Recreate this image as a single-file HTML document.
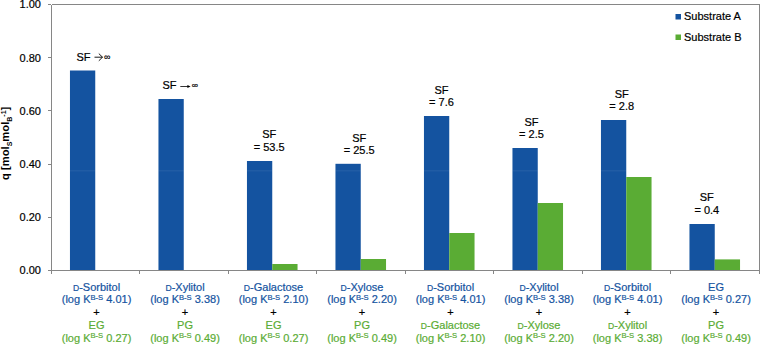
<!DOCTYPE html>
<html><head><meta charset="utf-8"><style>
html,body{margin:0;padding:0;background:#fff;}
body{width:760px;height:344px;overflow:hidden;}
svg{display:block;font-family:"Liberation Sans",sans-serif;}
text{stroke-width:0.2px;}
</style></head><body>
<svg width="760" height="344" viewBox="0 0 760 344">

<rect x="69.96" y="70.5" width="25.29" height="200.00" fill="#1453a0"/>
<rect x="69.96" y="170.2" width="25.29" height="1.2" fill="#fff" fill-opacity="0.07"/>
<rect x="158.46" y="99" width="25.29" height="171.50" fill="#1453a0"/>
<rect x="158.46" y="170.2" width="25.29" height="1.2" fill="#fff" fill-opacity="0.07"/>
<rect x="246.96" y="161" width="25.29" height="109.50" fill="#1453a0"/>
<rect x="246.96" y="170.2" width="25.29" height="1.2" fill="#fff" fill-opacity="0.07"/>
<rect x="272.25" y="264" width="25.29" height="6.50" fill="#5aac34"/>
<rect x="335.46" y="163.8" width="25.29" height="106.70" fill="#1453a0"/>
<rect x="335.46" y="170.2" width="25.29" height="1.2" fill="#fff" fill-opacity="0.07"/>
<rect x="360.75" y="259" width="25.29" height="11.50" fill="#5aac34"/>
<rect x="423.96" y="116" width="25.29" height="154.50" fill="#1453a0"/>
<rect x="423.96" y="170.2" width="25.29" height="1.2" fill="#fff" fill-opacity="0.07"/>
<rect x="449.25" y="233" width="25.29" height="37.50" fill="#5aac34"/>
<rect x="512.46" y="148" width="25.29" height="122.50" fill="#1453a0"/>
<rect x="512.46" y="170.2" width="25.29" height="1.2" fill="#fff" fill-opacity="0.07"/>
<rect x="537.75" y="203" width="25.29" height="67.50" fill="#5aac34"/>
<rect x="600.96" y="120" width="25.29" height="150.50" fill="#1453a0"/>
<rect x="600.96" y="170.2" width="25.29" height="1.2" fill="#fff" fill-opacity="0.07"/>
<rect x="626.25" y="177" width="25.29" height="93.50" fill="#5aac34"/>
<rect x="689.46" y="224" width="25.29" height="46.50" fill="#1453a0"/>
<rect x="714.75" y="259.4" width="25.29" height="11.10" fill="#5aac34"/>
<g stroke="#868686" stroke-width="1" fill="none" shape-rendering="crispEdges">
<path d="M51.5 4.5 H759.5 V270.5"/>
<path d="M51.5 4.5 V273.5"/>
<path d="M51 270.5 H760"/>
<path d="M48 270.5 H51"/>
<path d="M48 217.3 H51"/>
<path d="M48 164.1 H51"/>
<path d="M48 110.9 H51"/>
<path d="M48 57.7 H51"/>
<path d="M48 4.5 H51"/>
<path d="M139.5 270.5 V273.5"/>
<path d="M228.0 270.5 V273.5"/>
<path d="M316.5 270.5 V273.5"/>
<path d="M405.0 270.5 V273.5"/>
<path d="M493.5 270.5 V273.5"/>
<path d="M582.0 270.5 V273.5"/>
<path d="M670.5 270.5 V273.5"/>
<path d="M759.0 270.5 V273.5"/>
</g>
<g font-size="11" fill="#000" stroke="#000" text-anchor="end">
<text x="41" y="274.3">0.00</text>
<text x="41" y="221.1">0.20</text>
<text x="41" y="167.9">0.40</text>
<text x="41" y="114.7">0.60</text>
<text x="41" y="61.5">0.80</text>
<text x="41" y="8.3">1.00</text>
</g>
<text transform="translate(9.2,143.3) rotate(-90)" text-anchor="middle" font-size="11.2" font-weight="bold" fill="#000">q [mol<tspan font-size="7" dy="2.5">S</tspan><tspan dy="-2.5">mol</tspan><tspan font-size="7" dy="2.5">B</tspan><tspan font-size="7" dy="-6">-1</tspan><tspan dy="3.5">]</tspan></text>
<rect x="675.5" y="14" width="5.5" height="5.5" fill="#1453a0"/>
<rect x="675.5" y="34.5" width="5.5" height="5.5" fill="#5aac34"/>
<text x="684" y="20" font-size="11" fill="#000" stroke="#000">Substrate A</text>
<text x="684" y="40.5" font-size="11" fill="#000" stroke="#000">Substrate B</text>
<g font-size="11" text-anchor="middle">
<text x="96.55" y="290.6" fill="#1453a0" stroke="#1453a0"><tspan font-size="8.6">D</tspan>-Sorbitol</text>
<text x="96.55" y="303.4" fill="#1453a0" stroke="#1453a0">(log K<tspan font-size="7.6" dy="-3.4">B-S</tspan><tspan dy="3.4"> 4.01)</tspan></text>
<text x="96.55" y="316.2" fill="#000" stroke="#000">+</text>
<text x="96.55" y="329.0" fill="#5aac34" stroke="#5aac34">EG</text>
<text x="96.55" y="341.8" fill="#5aac34" stroke="#5aac34">(log K<tspan font-size="7.6" dy="-3.4">B-S</tspan><tspan dy="3.4"> 0.27)</tspan></text>
</g>
<g font-size="11" text-anchor="middle">
<text x="185.05" y="290.6" fill="#1453a0" stroke="#1453a0"><tspan font-size="8.6">D</tspan>-Xylitol</text>
<text x="185.05" y="303.4" fill="#1453a0" stroke="#1453a0">(log K<tspan font-size="7.6" dy="-3.4">B-S</tspan><tspan dy="3.4"> 3.38)</tspan></text>
<text x="185.05" y="316.2" fill="#000" stroke="#000">+</text>
<text x="185.05" y="329.0" fill="#5aac34" stroke="#5aac34">PG</text>
<text x="185.05" y="341.8" fill="#5aac34" stroke="#5aac34">(log K<tspan font-size="7.6" dy="-3.4">B-S</tspan><tspan dy="3.4"> 0.49)</tspan></text>
</g>
<g font-size="11" text-anchor="middle">
<text x="273.55" y="290.6" fill="#1453a0" stroke="#1453a0"><tspan font-size="8.6">D</tspan>-Galactose</text>
<text x="273.55" y="303.4" fill="#1453a0" stroke="#1453a0">(log K<tspan font-size="7.6" dy="-3.4">B-S</tspan><tspan dy="3.4"> 2.10)</tspan></text>
<text x="273.55" y="316.2" fill="#000" stroke="#000">+</text>
<text x="273.55" y="329.0" fill="#5aac34" stroke="#5aac34">EG</text>
<text x="273.55" y="341.8" fill="#5aac34" stroke="#5aac34">(log K<tspan font-size="7.6" dy="-3.4">B-S</tspan><tspan dy="3.4"> 0.27)</tspan></text>
</g>
<g font-size="11" text-anchor="middle">
<text x="362.05" y="290.6" fill="#1453a0" stroke="#1453a0"><tspan font-size="8.6">D</tspan>-Xylose</text>
<text x="362.05" y="303.4" fill="#1453a0" stroke="#1453a0">(log K<tspan font-size="7.6" dy="-3.4">B-S</tspan><tspan dy="3.4"> 2.20)</tspan></text>
<text x="362.05" y="316.2" fill="#000" stroke="#000">+</text>
<text x="362.05" y="329.0" fill="#5aac34" stroke="#5aac34">PG</text>
<text x="362.05" y="341.8" fill="#5aac34" stroke="#5aac34">(log K<tspan font-size="7.6" dy="-3.4">B-S</tspan><tspan dy="3.4"> 0.49)</tspan></text>
</g>
<g font-size="11" text-anchor="middle">
<text x="450.55" y="290.6" fill="#1453a0" stroke="#1453a0"><tspan font-size="8.6">D</tspan>-Sorbitol</text>
<text x="450.55" y="303.4" fill="#1453a0" stroke="#1453a0">(log K<tspan font-size="7.6" dy="-3.4">B-S</tspan><tspan dy="3.4"> 4.01)</tspan></text>
<text x="450.55" y="316.2" fill="#000" stroke="#000">+</text>
<text x="450.55" y="329.0" fill="#5aac34" stroke="#5aac34"><tspan font-size="8.6">D</tspan>-Galactose</text>
<text x="450.55" y="341.8" fill="#5aac34" stroke="#5aac34">(log K<tspan font-size="7.6" dy="-3.4">B-S</tspan><tspan dy="3.4"> 2.10)</tspan></text>
</g>
<g font-size="11" text-anchor="middle">
<text x="539.05" y="290.6" fill="#1453a0" stroke="#1453a0"><tspan font-size="8.6">D</tspan>-Xylitol</text>
<text x="539.05" y="303.4" fill="#1453a0" stroke="#1453a0">(log K<tspan font-size="7.6" dy="-3.4">B-S</tspan><tspan dy="3.4"> 3.38)</tspan></text>
<text x="539.05" y="316.2" fill="#000" stroke="#000">+</text>
<text x="539.05" y="329.0" fill="#5aac34" stroke="#5aac34"><tspan font-size="8.6">D</tspan>-Xylose</text>
<text x="539.05" y="341.8" fill="#5aac34" stroke="#5aac34">(log K<tspan font-size="7.6" dy="-3.4">B-S</tspan><tspan dy="3.4"> 2.20)</tspan></text>
</g>
<g font-size="11" text-anchor="middle">
<text x="627.55" y="290.6" fill="#1453a0" stroke="#1453a0"><tspan font-size="8.6">D</tspan>-Sorbitol</text>
<text x="627.55" y="303.4" fill="#1453a0" stroke="#1453a0">(log K<tspan font-size="7.6" dy="-3.4">B-S</tspan><tspan dy="3.4"> 4.01)</tspan></text>
<text x="627.55" y="316.2" fill="#000" stroke="#000">+</text>
<text x="627.55" y="329.0" fill="#5aac34" stroke="#5aac34"><tspan font-size="8.6">D</tspan>-Xylitol</text>
<text x="627.55" y="341.8" fill="#5aac34" stroke="#5aac34">(log K<tspan font-size="7.6" dy="-3.4">B-S</tspan><tspan dy="3.4"> 3.38)</tspan></text>
</g>
<g font-size="11" text-anchor="middle">
<text x="716.05" y="290.6" fill="#1453a0" stroke="#1453a0">EG</text>
<text x="716.05" y="303.4" fill="#1453a0" stroke="#1453a0">(log K<tspan font-size="7.6" dy="-3.4">B-S</tspan><tspan dy="3.4"> 0.27)</tspan></text>
<text x="716.05" y="316.2" fill="#000" stroke="#000">+</text>
<text x="716.05" y="329.0" fill="#5aac34" stroke="#5aac34">PG</text>
<text x="716.05" y="341.8" fill="#5aac34" stroke="#5aac34">(log K<tspan font-size="7.6" dy="-3.4">B-S</tspan><tspan dy="3.4"> 0.49)</tspan></text>
</g>
<g font-size="11" fill="#000" stroke="#000" text-anchor="middle">
<text x="269.2" y="138.1">SF</text>
<text x="269.2" y="150.7">= 53.5</text>
<text x="359.2" y="141.5">SF</text>
<text x="359.2" y="154.0">= 25.5</text>
<text x="441.5" y="93.8">SF</text>
<text x="441.5" y="106.4">= 7.6</text>
<text x="531.5" y="125.7">SF</text>
<text x="531.5" y="138.3">= 2.5</text>
<text x="621.7" y="97.6">SF</text>
<text x="621.7" y="110.3">= 2.8</text>
<text x="706.8" y="201.4">SF</text>
<text x="706.8" y="213.8">= 0.4</text>
</g>
<text x="76.5" y="60.8" font-size="11" fill="#000" stroke="#000">SF</text>
<text x="162.5" y="89.3" font-size="11" fill="#000" stroke="#000">SF</text>
<path d="M94.5 57.2 H102.5 M98.8 53.6 L102.5 57.2 L98.8 60.8" stroke="#000" stroke-width="0.9" fill="none"/>
<text x="104" y="59.9" font-size="9" fill="#000" stroke="#000">∞</text>
<path d="M180.3 86.5 H188" stroke="#000" stroke-width="0.8" fill="none"/><path d="M187.4 84.9 L190.6 86.5 L187.4 88.1 Z" fill="#000"/>
<text x="191.8" y="88.3" font-size="8.8" fill="#000" stroke="#000">∞</text>
</svg>
</body></html>
